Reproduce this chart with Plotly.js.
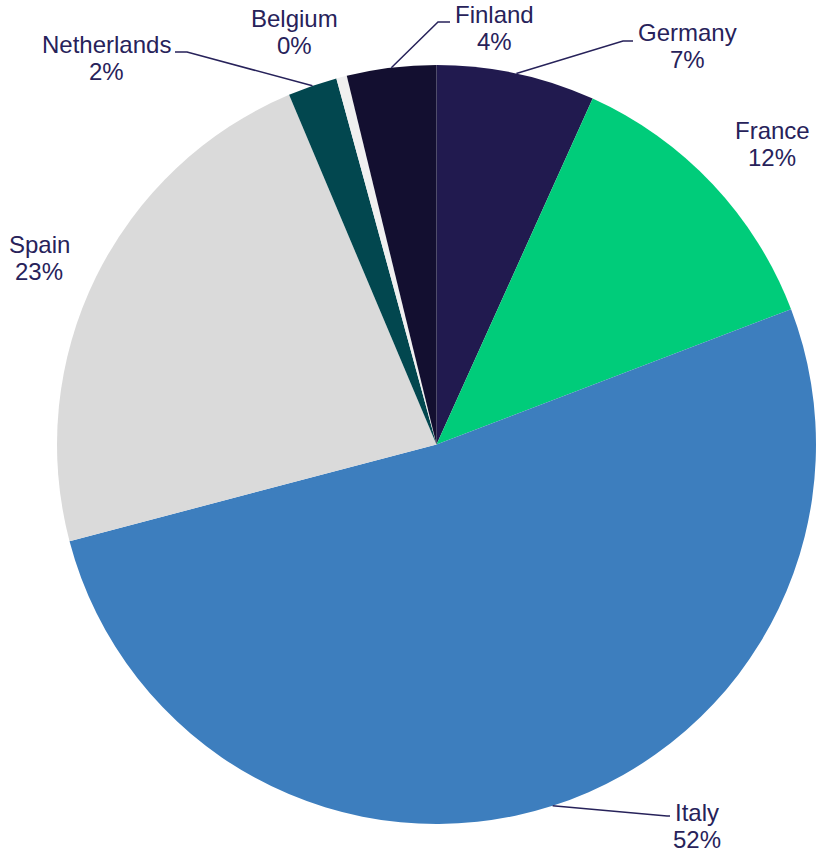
<!DOCTYPE html>
<html><head><meta charset="utf-8">
<script src="https://cdn.plot.ly/plotly-3.0.1.min.js"></script>
<style>html,body{margin:0;padding:0;background:#fff}#chart{width:820px;height:857px}</style>
</head><body><div id="chart"></div>
<script>
// ---- data ----
const countries = ['Germany', 'France', 'Italy', 'Spain', 'Netherlands', 'Belgium', 'Finland'];
const shares = [6.75, 12.45, 51.7, 22.75, 2.1, 0.45, 3.8];

// ---- styles ----
const sliceColors = ['#211a4f', '#00cc7a', '#3d7ebe', '#dadada', '#02474f', '#f0f0f0', '#130f30'];
const textColor = '#27225a';
const fontFamily = 'Liberation Sans, Arial, sans-serif';
const fontSize = 24;
const lineGap = 27;

// label placement: first-line baseline, pixel offset from pie centre
const labelDX = [250.5, 335.5, 260.5, -397.5, -330.5, -142.5, 57.5];
const labelDY = [-404.5, -306.5, 375.5, -192.5, -392.5, -418.5, -422.5];
// leader lines: text-side end (offset from centre) and elbow length; null = no leader
const leaderEnd = [[196.5, -403.5], null, [233.5, 371.5], null, [-261.5, -392.5], null, [13.5, -422.5]];
const leaderElbow = [-10, 0, -3, 0, 12, 0, -12];

// ---- geometry ----
const W = 820, H = 857;
const M = {l: 57, r: 4, t: 65, b: 33};
const pw = W - M.l - M.r, ph = H - M.t - M.b;
const R = Math.min(pw, ph) / 2;
const cx = M.l + pw / 2, cy = M.t + ph / 2;
const px2x = px => (px - M.l) / pw;
const py2y = py => 1 - (py - M.t) / ph;

const total = shares.reduce((a, b) => a + b, 0);
const annotations = [];
const shapes = [];
let cum = 0;
shares.forEach((v, i) => {
  const pct = v / total * 100;
  const midAng = (cum + v / 2) / total * 2 * Math.PI;
  cum += v;
  const lx = cx + labelDX[i], ly = cy + labelDY[i];
  const lines = [countries[i], Math.round(pct) + '%'];
  lines.forEach((t, k) => {
    const base = ly + k * lineGap;
    annotations.push({
      xref: 'paper', yref: 'paper', x: px2x(lx), y: py2y(base - 0.3 * fontSize),
      xanchor: 'center', yanchor: 'middle', showarrow: false, text: t,
      font: {family: fontFamily, size: fontSize, color: textColor}
    });
  });
  if (leaderEnd[i]) {
    const sx = cx + R * Math.sin(midAng), sy = cy - R * Math.cos(midAng);
    const ex = cx + leaderEnd[i][0], ey = cy + leaderEnd[i][1];
    const bx = ex + leaderElbow[i];
    shapes.push({
      type: 'path', xref: 'paper', yref: 'paper',
      path: `M ${px2x(sx)},${py2y(sy)} L ${px2x(bx)},${py2y(ey)} L ${px2x(ex)},${py2y(ey)}`,
      line: {color: textColor, width: 1.5}
    });
  }
});

const trace = {
  type: 'pie', labels: countries, values: shares, sort: false, direction: 'clockwise',
  rotation: 0, textinfo: 'none', hoverinfo: 'label+percent',
  marker: {colors: sliceColors, line: {width: 0}},
  domain: {x: [0, 1], y: [0, 1]}, showlegend: false
};

Plotly.newPlot('chart', [trace], {
  width: W, height: H, margin: M, paper_bgcolor: '#fff', plot_bgcolor: '#fff',
  showlegend: false, annotations: annotations, shapes: shapes
}, {displayModeBar: false, staticPlot: true});
</script></body></html>
